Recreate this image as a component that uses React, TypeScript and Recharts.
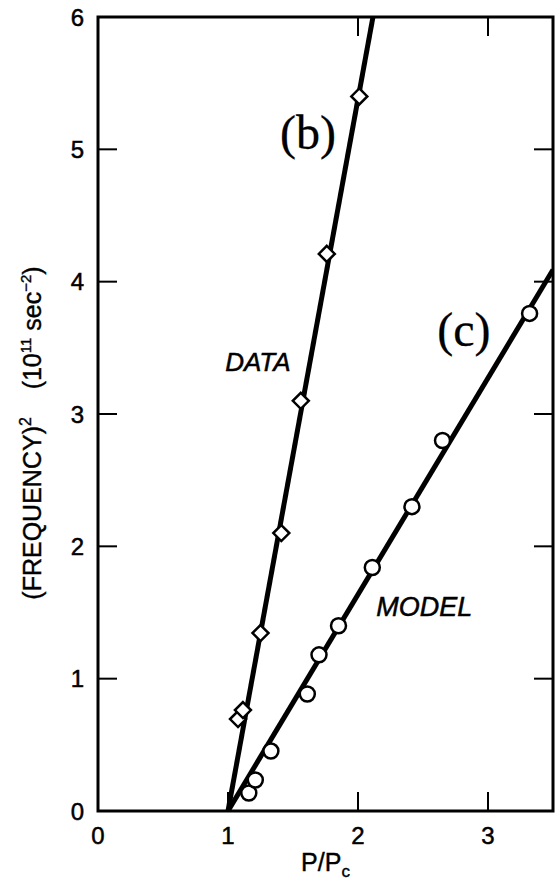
import { ScatterChart, Scatter, XAxis, YAxis, ReferenceArea, ReferenceDot } from 'recharts';

// (b) measured points, diamonds
const dataX = [1.077, 1.115, 1.25, 1.41, 1.56, 1.76, 2.01];
const dataY = [0.695, 0.763, 1.345, 2.1, 3.1, 4.21, 5.4];

// (c) model points, circles
const modelX = [1.16, 1.21, 1.33, 1.61, 1.7, 1.85, 2.11, 2.415, 2.65, 3.32];
const modelY = [0.136, 0.234, 0.453, 0.884, 1.18, 1.4, 1.84, 2.3, 2.8, 3.76];

// straight fits through P/Pc = 1
const fitBX = [1, 2.115];
const fitBY = [0, 6];
const fitCX = [1, 3.5];
const fitCY = [0, 4.09];

const xTicks = [0, 1, 2, 3];
const yTicks = [0, 1, 2, 3, 4, 5, 6];
// the top edge only carries ticks at 2 and 3
const topTicks = [2, 3];

const zip = (xs: number[], ys: number[]) => xs.map((x, i) => ({ x, y: ys[i] }));

const W = 556;
const H = 886;
const M = { top: 17, right: 3, left: 0, bottom: 0 };
const Y_W = 98;
const X_H = 75;
const TOP = M.top;
const RIGHT = W - M.right;
const TICK = 19;
const SANS = '"Liberation Sans", Arial, sans-serif';
const SERIF = '"Liberation Serif", "Times New Roman", serif';

const XTick = (props: any) => {
  const { x, y, payload } = props;
  const v = payload.value;
  return (
    <g>
      {v > 0 && <line x1={x} y1={y} x2={x} y2={y - TICK} stroke="#000" strokeWidth={2} />}
      {topTicks.includes(v) && <line x1={x} y1={TOP} x2={x} y2={TOP + TICK} stroke="#000" strokeWidth={2} />}
      <text x={x} y={y + 33} textAnchor="middle" fontFamily={SANS} fontSize={24} fill="#000" stroke="#000" strokeWidth={0.5}>
        {v}
      </text>
    </g>
  );
};

const YTick = (props: any) => {
  const { x, y, payload } = props;
  const v = payload.value;
  const inner = v > 0 && v < 6;
  return (
    <g>
      {inner && <line x1={x} y1={y} x2={x + TICK} y2={y} stroke="#000" strokeWidth={2} />}
      {inner && <line x1={RIGHT} y1={y} x2={RIGHT - TICK} y2={y} stroke="#000" strokeWidth={2} />}
      <text x={x - 14} y={y + 8.5} textAnchor="end" fontFamily={SANS} fontSize={24} fill="#000" stroke="#000" strokeWidth={0.5}>
        {v}
      </text>
    </g>
  );
};

const Diamond = (props: any) => {
  const { cx, cy } = props;
  const r = 8;
  return (
    <polygon
      points={`${cx},${cy - r} ${cx + r},${cy} ${cx},${cy + r} ${cx - r},${cy}`}
      fill="#fff"
      stroke="#000"
      strokeWidth={2.5}
    />
  );
};

const Ring = (props: any) => (
  <circle cx={props.cx} cy={props.cy} r={7.5} fill="#fff" stroke="#000" strokeWidth={2.5} />
);

const NoMark = () => <g />;

const YTitle = () => (
  <text
    transform="translate(41, 433) rotate(-90)"
    textAnchor="middle"
    fontFamily={SANS}
    fontSize={25}
    fill="#000"
    stroke="#000"
    strokeWidth={0.4}
  >
    (FREQUENCY)
    <tspan fontSize={16} dy={-10}>2</tspan>
    <tspan dy={10}>{'\u00a0\u00a0\u00a0\u00a0(10'}</tspan>
    <tspan fontSize={15} dy={-10}>11</tspan>
    <tspan dy={10}>{'\u00a0sec'}</tspan>
    <tspan fontSize={15} dy={-10}>{'\u2212'}2</tspan>
    <tspan dy={10}>)</tspan>
  </text>
);

const XTitle = (props: any) => {
  const vb = props.viewBox;
  const cx = vb.x + vb.width / 2;
  return (
    <text x={cx} y={871} textAnchor="middle" fontFamily={SANS} fontSize={25} fill="#000" stroke="#000" strokeWidth={0.4}>
      P/P
      <tspan fontSize={17} dy={6}>c</tspan>
    </text>
  );
};

const note = (text: string, family: string, size: number, italic: boolean) => (props: any) => {
  const vb = props.viewBox;
  const cx = vb.x + vb.width / 2;
  const cy = vb.y + vb.height / 2;
  return (
    <text
      x={cx}
      y={cy}
      textAnchor="middle"
      dominantBaseline="central"
      fontFamily={family}
      fontSize={size}
      fontStyle={italic ? 'italic' : 'normal'}
      fill="#000"
      stroke="#000"
      strokeWidth={italic ? 0.5 : 0.3}
    >
      {text}
    </text>
  );
};

export default function App() {
  return (
    <div style={{ position: 'absolute', left: 0, top: 0, background: '#fff' }}>
      <ScatterChart width={W} height={H} margin={M}>
        <XAxis
          type="number"
          dataKey="x"
          domain={[0, 3.5]}
          ticks={xTicks}
          height={X_H}
          axisLine={false}
          tickLine={false}
          tickSize={0}
          tickMargin={0}
          tick={<XTick />}
          label={{ content: <XTitle /> }}
          allowDataOverflow
        />
        <YAxis
          type="number"
          dataKey="y"
          domain={[0, 6]}
          ticks={yTicks}
          width={Y_W}
          axisLine={false}
          tickLine={false}
          tickSize={0}
          tickMargin={0}
          tick={<YTick />}
          label={{ content: <YTitle /> }}
          allowDataOverflow
        />
        <Scatter data={zip(fitBX, fitBY)} fill="#000" line={{ stroke: '#000', strokeWidth: 5 }} shape={NoMark} isAnimationActive={false} />
        <Scatter data={zip(fitCX, fitCY)} fill="#000" line={{ stroke: '#000', strokeWidth: 5 }} shape={NoMark} isAnimationActive={false} />
        <Scatter data={zip(dataX, dataY)} shape={Diamond} isAnimationActive={false} />
        <Scatter data={zip(modelX, modelY)} shape={Ring} isAnimationActive={false} />
        <ReferenceArea x1={0} x2={3.5} y1={0} y2={6} fill="none" stroke="#000" strokeWidth={3} />
        <ReferenceDot x={1.615} y={5.13} r={0} stroke="none" fill="none" label={{ content: note('(b)', SERIF, 48, false) }} />
        <ReferenceDot x={2.815} y={3.635} r={0} stroke="none" fill="none" label={{ content: note('(c)', SERIF, 48, false) }} />
        <ReferenceDot x={1.23} y={3.39} r={0} stroke="none" fill="none" label={{ content: note('DATA', SANS, 26, true) }} />
        <ReferenceDot x={2.51} y={1.54} r={0} stroke="none" fill="none" label={{ content: note('MODEL', SANS, 27, true) }} />
      </ScatterChart>
    </div>
  );
}
